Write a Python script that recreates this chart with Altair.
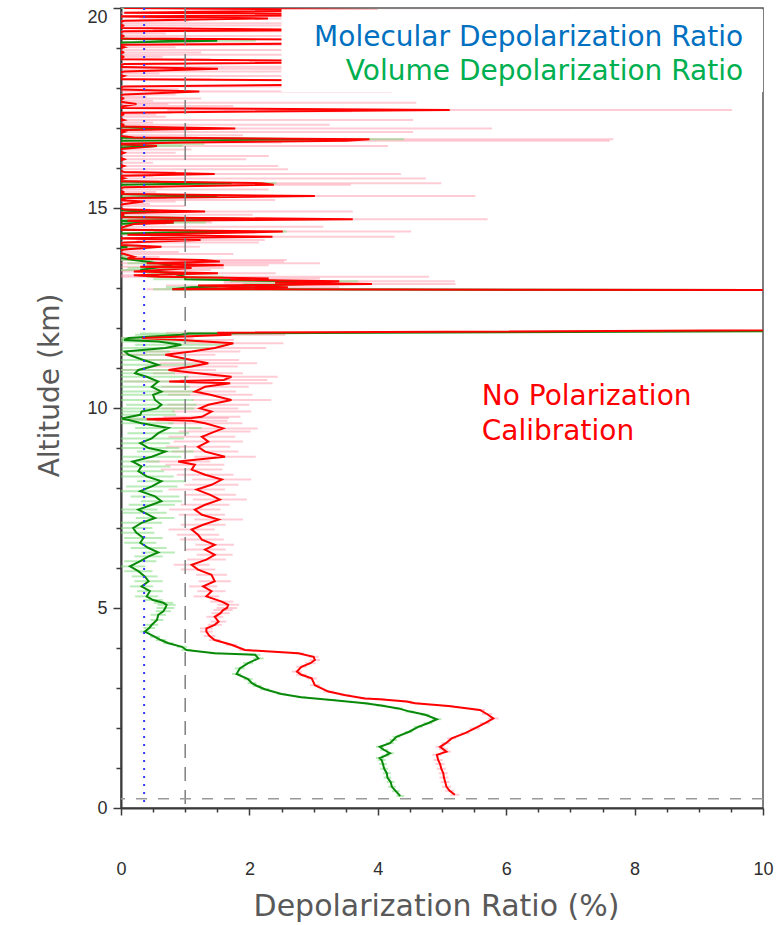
import altair as alt
import pandas as pd

# ---------------- data ----------------
# Volume depolarization ratio (green): altitude (km), ratio (%), error (%)
green_alt = [0.30, 0.42, 0.53, 0.65, 0.76, 0.87, 0.98, 1.10, 1.20, 1.25, 1.31, 1.37, 1.45, 1.53, 1.62, 1.70, 1.78, 1.90,
             2.03, 2.12, 2.22, 2.33, 2.41, 2.49, 2.56, 2.62, 2.70, 2.77, 2.85, 2.97, 3.05, 3.12, 3.22, 3.35, 3.49, 3.62,
             3.74, 3.83, 3.87, 3.95, 4.03, 4.12, 4.20, 4.28, 4.41, 4.50, 4.58, 4.70, 4.83, 4.92, 5.00, 5.08, 5.13, 5.20,
             5.29, 5.42, 5.54, 5.67, 5.79, 5.92, 6.04, 6.17, 6.29, 6.39, 6.50, 6.63, 6.75, 6.88, 7.00, 7.13, 7.25, 7.38,
             7.46, 7.58, 7.67, 7.79, 7.92, 8.04, 8.17, 8.29, 8.42, 8.54, 8.66, 8.78, 8.91, 9.00, 9.12, 9.24, 9.37, 9.50,
             9.62, 9.70, 9.74, 9.83, 9.91, 9.99, 10.08, 10.20, 10.33, 10.41, 10.53, 10.66, 10.78, 10.87, 10.95, 11.08,
             11.20, 11.33, 11.41, 11.50, 11.58, 11.66, 11.70, 11.75, 11.83, 11.86, 12.05, 12.90,
             12.97, 13.02, 13.10, 13.17, 13.22, 13.28, 13.37, 13.45, 13.50, 13.57, 13.62, 13.70, 13.80, 13.98, 14.03,
             14.08, 14.36, 14.41, 14.46, 14.60, 14.64, 14.68, 14.72, 14.78, 14.87, 14.91, 14.96, 15.25, 15.30, 15.35,
             15.58, 15.62, 15.67, 16.50, 16.55, 16.60, 16.68, 16.72, 16.76, 16.95, 16.99, 17.04, 19.13, 19.18, 19.24,
             20.00]
green_val = [4.35, 4.28, 4.22, 4.20, 4.15, 4.14, 4.10, 4.08, 4.06, 4.03, 4.12, 4.19, 4.10, 4.03, 4.19, 4.24, 4.29, 4.48,
             4.63, 4.78, 4.92, 4.74, 4.50, 4.32, 4.05, 3.80, 3.28, 2.81, 2.50, 2.24, 2.12, 2.04, 1.98, 1.80, 1.85, 1.98,
             2.14, 2.09, 1.46, 1.02, 0.95, 0.74, 0.62, 0.53, 0.37, 0.44, 0.48, 0.56, 0.58, 0.66, 0.69, 0.71, 0.66, 0.50,
             0.40, 0.45, 0.32, 0.43, 0.37, 0.27, 0.14, 0.30, 0.43, 0.58, 0.43, 0.30, 0.35, 0.24, 0.19, 0.32, 0.53, 0.37,
             0.27, 0.48, 0.63, 0.53, 0.30, 0.48, 0.63, 0.40, 0.27, 0.32, 0.18, 0.48, 0.69, 0.43, 0.30, 0.48, 0.58, 0.74,
             0.32, 0.12, 0.01, 0.30, 0.32, 0.56, 0.63, 0.53, 0.50, 0.63, 0.48, 0.58, 0.40, 0.22, 0.27, 0.58,
             0.35, 0.12, 0.06, 0.69, 0.94, 0.58, 0.05, 0.12, 0.94, 1.05, 30.0, 30.0,
             0.80, 1.10, 2.90, 2.70, 1.00, 1.00, 0.80, 0.30, 0.50, 0.80, 0.60, 0.20, -0.20, -0.20, 0.10,
             -0.20, -0.20, 1.78, -0.20, -0.20, 0.82, -0.20, 2.20, -0.20, -0.20, 0.60, -0.20, -0.20, 1.50, -0.20,
             -0.20, 1.72, -0.20, -0.20, 0.56, -0.20, -0.20, 3.21, -0.20, -0.20, 0.95, -0.20, -0.20, 1.50, -0.20,
             -0.20]
green_err = [0.06, 0.06, 0.06, 0.06, 0.06, 0.06, 0.06, 0.06, 0.06, 0.06, 0.06, 0.06, 0.06, 0.06, 0.06, 0.06, 0.06, 0.06,
             0.07, 0.07, 0.07, 0.07, 0.07, 0.07, 0.07, 0.07, 0.07, 0.07, 0.07, 0.07, 0.07, 0.07, 0.07, 0.07, 0.08, 0.08,
             0.08, 0.08, 0.08, 0.08, 0.08, 0.08, 0.08, 0.08, 0.08, 0.09, 0.10, 0.10, 0.12, 0.12, 0.14, 0.14, 0.15, 0.15,
             0.18, 0.20, 0.18, 0.22, 0.20, 0.22, 0.24, 0.25, 0.22, 0.26, 0.28, 0.25, 0.30, 0.28, 0.30, 0.32, 0.30, 0.34,
             0.30, 0.36, 0.32, 0.38, 0.35, 0.40, 0.38, 0.42, 0.40, 0.45, 0.42, 0.46, 0.44, 0.48, 0.46, 0.50, 0.48, 0.52,
             0.50, 0.55, 0.50, 0.56, 0.52, 0.58, 0.55, 0.60, 0.58, 0.62, 0.60, 0.62, 0.65, 0.62, 0.66, 0.64,
             0.68, 0.66, 0.70, 0.68, 0.72, 0.70, 0.72, 0.74, 0.72, 0.75, 0.0, 0.0,
             0.30, 0.40, 1.00, 1.00, 0.50, 0.60, 0.40, 0.30, 0.40, 0.40, 0.50, 0.30, 0.30, 0.30, 0.30,
             0.30, 0.30, 0.80, 0.30, 0.30, 0.50, 1.60, 1.00, 0.30, 0.30, 0.30, 0.30, 0.30, 0.60, 0.30,
             0.30, 0.70, 0.30, 0.30, 0.40, 1.50, 0.30, 1.20, 0.30, 0.30, 0.50, 0.30, 0.30, 0.60, 0.30,
             0.30]

# Depolarization ratio without polarization calibration (red)
red_alt = [0.33, 0.43, 0.53, 0.65, 0.76, 0.87, 0.98, 1.10, 1.20, 1.33, 1.41, 1.47, 1.53, 1.62, 1.74, 1.87, 1.99, 2.12,
           2.24, 2.35, 2.45, 2.55, 2.62, 2.66, 2.72, 2.74, 2.82, 2.91, 3.07, 3.24, 3.33, 3.41, 3.53, 3.62, 3.70, 3.78,
           3.87, 3.95, 4.08, 4.20, 4.30, 4.41, 4.49, 4.58, 4.66, 4.78, 4.87, 4.95, 5.00, 5.08, 5.16, 5.29, 5.42, 5.54,
           5.67, 5.83, 5.96, 6.08, 6.21, 6.33, 6.46, 6.58, 6.71, 6.83, 6.96, 7.08, 7.21, 7.33, 7.46, 7.58, 7.71, 7.83,
           7.96, 8.08, 8.21, 8.33, 8.46, 8.58, 8.66, 8.78, 8.91, 9.03, 9.16, 9.28, 9.41, 9.49, 9.62, 9.68, 9.72, 9.75,
           9.78, 9.91, 9.99, 10.08, 10.20, 10.33, 10.41, 10.53, 10.62, 10.66, 10.70, 10.78, 10.87, 10.95, 11.04, 11.12,
           11.20, 11.33, 11.41, 11.50, 11.62, 11.70, 11.75, 11.83, 11.88, 12.10, 12.90,
           12.97, 13.02, 13.06, 13.10, 13.13, 13.17, 13.21, 13.24, 13.28, 13.32, 13.37, 13.41, 13.45, 13.50, 13.53,
           13.57, 13.62, 13.66, 13.70, 13.74, 13.78, 13.85, 13.90, 13.96, 14.03, 14.08, 14.14, 14.20, 14.24, 14.28,
           14.33, 14.41, 14.46, 14.53, 14.60, 14.64, 14.68, 14.72, 14.77, 14.83, 14.87, 14.91, 14.96, 15.05, 15.10,
           15.16, 15.20, 15.25, 15.30, 15.35, 15.40, 15.46, 15.52, 15.58, 15.62, 15.67, 15.74, 15.80, 15.85, 15.90,
           15.97, 16.05, 16.13, 16.22, 16.30, 16.38, 16.46, 16.55, 16.60, 16.64, 16.68, 16.72, 16.76, 16.82, 16.90,
           16.95, 16.99, 17.04, 17.08, 17.14, 17.20, 17.28, 17.34, 17.38, 17.42, 17.45, 17.50, 17.55, 17.60, 17.63,
           17.68, 17.74, 17.78, 17.84, 17.91, 17.97, 18.04, 18.12, 18.16, 18.22, 18.30, 18.36, 18.41, 18.48, 18.53,
           18.60, 18.66, 18.72, 18.78, 18.83, 18.89, 18.95, 19.02, 19.08, 19.12, 19.18, 19.24, 19.30, 19.36, 19.42,
           19.45, 19.50, 19.56, 19.62, 19.68, 19.74, 19.79, 19.83, 19.88, 19.95, 20.00]
red_val = [5.20, 5.12, 5.07, 5.05, 5.03, 5.02, 4.99, 4.97, 4.94, 4.92, 5.07, 5.02, 4.97, 5.06, 5.15, 5.36, 5.51, 5.67,
           5.80, 5.70, 5.59, 5.10, 4.58, 4.45, 4.03, 3.80, 3.50, 3.23, 3.02, 2.97, 2.81, 2.74, 2.81, 2.95, 3.02, 3.00,
           2.76, 1.93, 1.72, 1.46, 1.38, 1.33, 1.33, 1.46, 1.52, 1.46, 1.55, 1.59, 1.65, 1.67, 1.57, 1.33, 1.41, 1.28,
           1.46, 1.41, 1.20, 1.10, 1.33, 1.46, 1.31, 1.46, 1.26, 1.20, 1.10, 1.28, 1.52, 1.26, 1.15, 1.31, 1.54, 1.39,
           1.18, 1.41, 1.57, 1.31, 1.10, 1.15, 0.89, 1.62, 1.31, 1.20, 1.36, 1.26, 1.46, 1.59, 1.31, 1.10, 0.40, 1.10,
           1.26, 1.41, 1.23, 1.36, 1.72, 1.39, 1.15, 1.31, 1.70, 0.75, 1.60, 1.72, 1.20, 0.74, 1.10, 1.36,
           1.10, 0.69, 1.10, 1.46, 1.75, 0.94, 0.33, 1.72, 1.50, 30.0, 30.0,
           0.80, 2.60, 1.20, 3.91, 2.40, 3.40, 1.70, 2.30, 0.60, 0.20, 1.51, 0.20, 0.60, 1.10, 0.30,
           1.60, 0.40, 1.54, 1.28, 0.10, 0.20, 0.05, -0.10, 0.05, 0.63, -0.10, 0.05, 1.24, -0.10, 2.36,
           0.10, 2.52, -0.10, 0.05, 0.20, 0.82, 0.10, 3.61, -0.10, 0.05, -0.10, 1.31, 0.05, -0.10, 0.05,
           0.35, -0.10, 0.10, 3.02, -0.10, 0.05, -0.10, 0.05, 2.38, 2.19, -0.10, 0.05, -0.10, 1.46, 0.05,
           -0.10, 0.05, -0.10, 0.05, -0.10, 0.05, -0.10, 0.56, -0.10, 1.00, 3.51, 3.87, 0.20, -0.10, 0.05,
           -0.10, 1.78, -0.10, 0.05, -0.10, 0.05, -0.10, 0.05, -0.10, 2.60, 5.12, -0.10, 0.05, 0.24, 0.10,
           -0.10, 0.05, -0.10, 0.05, 1.22, -0.10, 0.05, 6.00, 7.00, -0.10, 0.05, -0.10, 0.05, 1.51, -0.10,
           0.05, 5.00, -0.10, 0.05, -0.10, 0.05, -0.10, 0.05, -0.10, 4.00, 7.00, -0.10, 0.05, -0.10, 0.05,
           3.50, -0.10, 0.05, -0.10, 0.05, 2.29, -0.10, 6.00, 0.05, 4.00, 0.05]
red_err = [0.07, 0.07, 0.07, 0.07, 0.07, 0.07, 0.07, 0.07, 0.07, 0.07, 0.07, 0.07, 0.07, 0.07, 0.07, 0.07, 0.08, 0.08,
           0.08, 0.08, 0.08, 0.08, 0.08, 0.08, 0.08, 0.08, 0.08, 0.08, 0.08, 0.08, 0.08, 0.08, 0.08, 0.08, 0.08, 0.08,
           0.09, 0.09, 0.09, 0.09, 0.09, 0.10, 0.10, 0.11, 0.12, 0.13, 0.14, 0.15, 0.16, 0.17, 0.18, 0.20, 0.22, 0.22,
           0.25, 0.24, 0.27, 0.28, 0.30, 0.28, 0.32, 0.30, 0.34, 0.33, 0.36, 0.35, 0.38, 0.36, 0.40, 0.38, 0.42, 0.40,
           0.44, 0.42, 0.46, 0.44, 0.48, 0.46, 0.50, 0.48, 0.52, 0.50, 0.54, 0.52, 0.56, 0.54, 0.58, 0.56, 0.60, 0.58,
           0.60, 0.62, 0.60, 0.64, 0.62, 0.66, 0.64, 0.68, 0.66, 0.70, 0.68, 0.72, 0.70, 0.74, 0.72, 0.76,
           0.74, 0.78, 0.76, 0.80, 0.78, 0.82, 0.80, 0.84, 0.80, 0.0, 0.0,
           0.40, 0.80, 0.50, 1.30, 0.80, 1.80, 0.60, 0.80, 4.20, 0.60, 0.90, 0.40, 0.80, 0.50, 0.60,
           0.70, 2.70, 1.00, 1.30, 0.50, 0.40, 1.70, 1.00, 0.30, 0.60, 0.40, 2.10, 1.00, 0.50, 1.90,
           0.80, 2.00, 0.60, 3.10, 0.50, 0.60, 0.90, 2.10, 0.70, 2.00, 0.50, 2.30, 0.40, 1.10, 0.40,
           0.50, 2.50, 0.60, 2.50, 0.80, 0.50, 2.40, 0.60, 1.20, 2.80, 0.70, 4.70, 0.60, 2.90, 0.80,
           2.70, 2.40, 0.60, 1.90, 2.40, 0.80, 1.20, 3.60, 0.70, 1.50, 4.10, 3.80, 1.00, 2.00, 4.50,
           0.70, 4.00, 0.60, 3.20, 0.60, 4.50, 0.80, 0.50, 0.90, 1.00, 4.40, 0.80, 1.70, 0.50, 4.50,
           0.60, 1.20, 0.50, 0.80, 3.00, 1.00, 2.60, 3.00, 3.00, 1.50, 3.00, 0.70, 5.00, 2.00, 4.00,
           1.00, 3.00, 1.50, 0.60, 4.00, 1.20, 6.00, 0.80, 3.50, 3.00, 4.00, 1.00, 3.00, 0.80, 5.00,
           3.00, 1.20, 4.00, 5.00, 1.00, 2.00, 0.80, 3.00, 1.50, 3.00, 2.00]

molecular_ratio = [0.36]      # % (blue dotted)
reference_ratio = [1.0]       # % (grey dashed vertical)
ground_altitude = [0.23]      # km (grey dashed horizontal)
x_ticks = [0, 0.5, 1, 1.5, 2, 2.5, 3, 3.5, 4, 4.5, 5, 5.5, 6, 6.5, 7, 7.5, 8, 8.5, 9, 9.5, 10]
y_ticks = list(range(0, 21))

legend_box = pd.DataFrame({"x": [2.5], "x2": [10.0], "y": [17.9], "y2": [19.97]})
labels = pd.DataFrame({
    "text": ["Molecular Depolarization Ratio", "Volume Depolarization Ratio", "No Polarization", "Calibration"],
    "x": [9.69, 9.69, 5.62, 5.62],
    "y": [19.25, 18.40, 10.27, 9.40],
    "color": ["#0070C0", "#00B050", "#FF0000", "#FF0000"],
    "align": ["right", "right", "left", "left"],
})

green = pd.DataFrame({"alt": green_alt, "val": green_val, "err": green_err})
green["lo"] = green["val"] - green["err"]
green["hi"] = green["val"] + green["err"]
red = pd.DataFrame({"alt": red_alt, "val": red_val, "err": red_err})
red["lo"] = red["val"] - red["err"]
red["hi"] = red["val"] + red["err"]

# ---------------- scales / axes ----------------
xs = alt.Scale(domain=[0, 10], nice=False, zero=False)
ys = alt.Scale(domain=[0, 20], nice=False, zero=False)

TITLE_FONT = "DejaVu Sans"
xaxis = alt.Axis(
    values=x_ticks, grid=False,
    labelExpr="datum.value % 2 === 0 ? format(datum.value, 'd') : ''",
    tickSize={"condition": {"test": "datum.value % 2 === 0", "value": 7}, "value": 4},
    labelPadding=45, labelBaseline="top", labelFont="Liberation Sans", labelFontSize=18, labelColor="#2E2E2E",
    labelOverlap=False, labelFlush=False,
    title="Depolarization Ratio (%)", titleFont=TITLE_FONT, titleFontSize=30, titleFontWeight="normal",
    titleColor="#595959", titleBaseline="alphabetic", titleY=107, titleX=315, titleAlign="center",
)
yaxis = alt.Axis(
    values=y_ticks, grid=False,
    labelExpr="datum.value % 5 === 0 ? format(datum.value, 'd') : ''",
    tickSize={"condition": {"test": "datum.value % 5 === 0", "value": 8}, "value": 5},
    labelBaseline={"condition": {"test": "datum.value === 20", "value": "top"}, "value": "middle"},
    labelPadding=6, labelFont="Liberation Sans", labelFontSize=18, labelColor="#2E2E2E",
    labelOverlap=False, labelFlush=False,
    title="Altitude (km)", titleFont=TITLE_FONT, titleFontSize=28, titleFontWeight="normal",
    titleColor="#595959", titleBaseline="alphabetic", titleAngle=270, titleX=-63, titleY=377,
    titleAlign="center",
)


def X(field):
    return alt.X(field, type="quantitative", scale=xs, axis=xaxis)


def Y(field):
    return alt.Y(field, type="quantitative", scale=ys, axis=yaxis)


red_err_layer = alt.Chart(red).mark_rule(clip=True, color="#FF8FA3", opacity=0.45, strokeWidth=2).encode(
    x=X("lo"), x2="hi", y=Y("alt"))
green_err_layer = alt.Chart(green).mark_rule(clip=True, color="#7FDC7F", opacity=0.55, strokeWidth=2).encode(
    x=X("lo"), x2="hi", y=Y("alt"))
red_line = alt.Chart(red).mark_line(clip=True, color="#FF0000", strokeWidth=2).encode(
    x=X("val"), y=Y("alt"), order=alt.Order("alt:Q"))
green_line = alt.Chart(green).mark_line(clip=True, color="#0A8A0A", strokeWidth=2).encode(
    x=X("val"), y=Y("alt"), order=alt.Order("alt:Q"))

mol = alt.Chart(pd.DataFrame({"v": molecular_ratio})).mark_rule(
    color="#3A3AFF", strokeWidth=2, strokeDash=[2, 6]).encode(x=X("v"))
refv = alt.Chart(pd.DataFrame({"v": reference_ratio})).mark_rule(
    color="#7F7F7F", strokeWidth=1.5, strokeDash=[14, 9]).encode(x=X("v"))
refh = alt.Chart(pd.DataFrame({"h": ground_altitude})).mark_rule(
    color="#999999", strokeWidth=1.5, strokeDash=[11, 11]).encode(y=Y("h"))

box = alt.Chart(legend_box).mark_rect(color="white").encode(
    x=X("x"), x2="x2", y=Y("y"), y2="y2")

texts = []
for i in range(len(labels)):
    row = labels.iloc[[i]]
    texts.append(
        alt.Chart(row).mark_text(align=row["align"].iloc[0], baseline="middle", font=TITLE_FONT,
                                 fontSize=28, color=row["color"].iloc[0]).encode(
            x=X("x"), y=Y("y"), text="text:N"))

chart = alt.layer(
    red_err_layer, green_err_layer, green_line, red_line, mol, refv, refh, box, *texts
).properties(
    width=642, height=800,
    autosize=alt.AutoSizeParams(type="none"),
    padding={"left": 121, "top": 8, "right": 21, "bottom": 117},
    background="white",
).configure_view(
    stroke="#555555", strokeWidth=1.5
).configure_axis(
    domainColor="#3A3A3A", domainWidth=2, tickColor="#3A3A3A", tickWidth=1.5
)

chart.save("out.html", embed_options={"renderer": "svg", "actions": False})
